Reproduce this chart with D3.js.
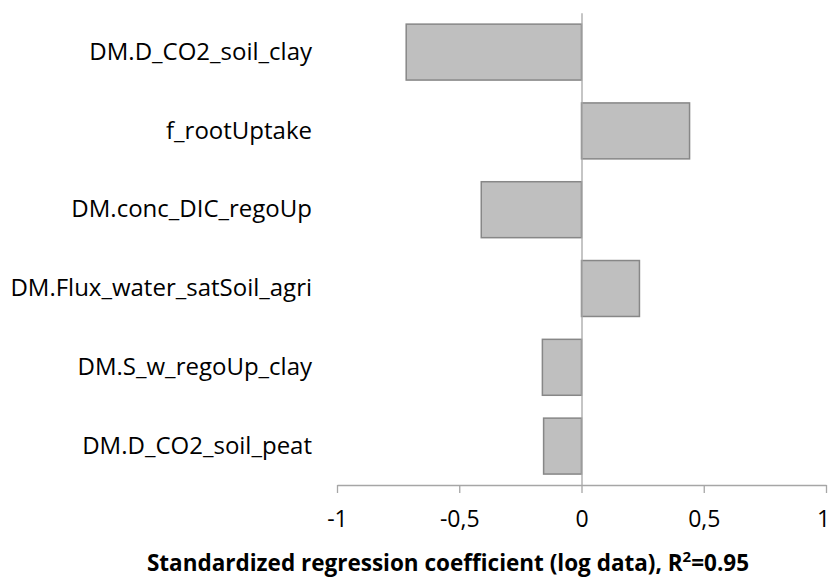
<!DOCTYPE html>
<html>
<head>
<meta charset="utf-8">
<script src="https://cdnjs.cloudflare.com/ajax/libs/d3/7.8.5/d3.min.js"></script>
<style>
  body { margin: 0; background: #fff; }
  svg text { font-family: "Open Sans", "Noto Sans", sans-serif; fill: #000; }
</style>
</head>
<body>
<div id="chart"></div>
<script>
// data
var categories = ["DM.D_CO2_soil_clay", "f_rootUptake", "DM.conc_DIC_regoUp",
                  "DM.Flux_water_satSoil_agri", "DM.S_w_regoUp_clay", "DM.D_CO2_soil_peat"];
var coefficients = [-0.717, 0.442, -0.410, 0.237, -0.160, -0.155];
var xTicks = [-1, -0.5, 0, 0.5, 1];

var data = categories.map(function(c, i) { return {name: c, value: coefficients[i]}; });

var width = 831, height = 579;

var svg = d3.select("#chart").append("svg")
    .attr("width", width)
    .attr("height", height);

// set the ranges
var x = d3.scaleLinear()
    .domain([-1, 1])
    .range([337, 826]);

var y = d3.scaleBand()
    .domain(categories)
    .range([12.7, 485.5])
    .paddingInner(0.29)
    .paddingOuter(0.145);

// bars
svg.selectAll(".bar")
    .data(data)
    .enter().append("rect")
    .attr("class", "bar")
    .attr("x", function(d) { return x(Math.min(0, d.value)); })
    .attr("y", function(d) { return y(d.name); })
    .attr("width", function(d) { return Math.abs(x(d.value) - x(0)); })
    .attr("height", y.bandwidth())
    .attr("fill", "#bfbfbf")
    .attr("stroke", "#878787")
    .attr("stroke-width", 1.5);

// vertical axis sits on zero, labels pushed to the left
var yAxis = svg.append("g")
    .attr("class", "y axis")
    .attr("transform", "translate(" + x(0) + ",0)")
    .call(d3.axisLeft(y).tickSize(0).tickSizeOuter(0).tickPadding(x(0) - 312));

yAxis.select(".domain").attr("stroke", "#a6a6a6").attr("stroke-width", 1.3);
yAxis.selectAll("text").style("font-size", "24px").attr("fill", "#000");

// bottom axis
var xAxis = svg.append("g")
    .attr("class", "x axis")
    .attr("transform", "translate(0,485)")
    .call(d3.axisBottom(x)
        .tickValues(xTicks)
        .tickSize(8)
        .tickSizeOuter(0)
        .tickPadding(18)
        .tickFormat(function(d) { return String(d).replace(".", ","); }));

xAxis.select(".domain").attr("stroke", "#a6a6a6").attr("stroke-width", 1.3);
xAxis.selectAll(".tick line").attr("stroke", "#a6a6a6").attr("stroke-width", 1.3);
xAxis.selectAll("text").style("font-size", "23px").attr("fill", "#000");
// keep the last label inside the picture
xAxis.selectAll("text").filter(function(d) { return d === 1; }).attr("dx", "-3");

// axis title
var title = svg.append("text")
    .attr("x", 448)
    .attr("y", 571)
    .attr("text-anchor", "middle")
    .style("font-size", "22.5px")
    .style("font-weight", "bold");
title.append("tspan").text("Standardized regression coefficient (log data), R");
title.append("tspan").text("2").style("font-size", "15px").attr("dy", "-9");
title.append("tspan").text("=0.95").attr("dy", "9");
</script>
</body>
</html>
